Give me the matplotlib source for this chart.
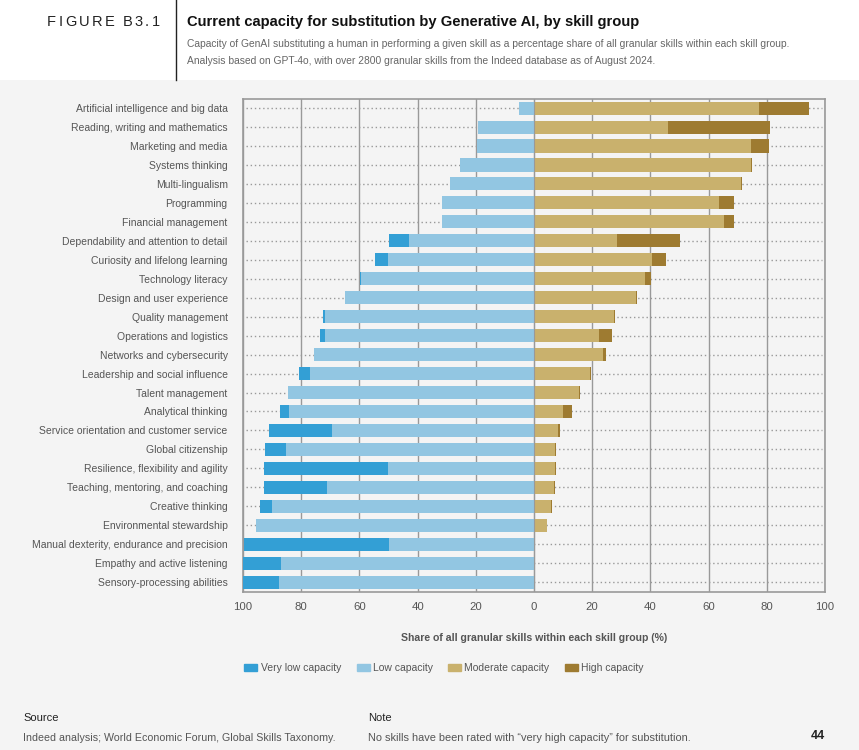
import matplotlib
matplotlib.use("Agg")
import matplotlib.pyplot as plt
import matplotlib.patches as mpatches
import numpy as np

plt.rcParams['font.family'] = ['Liberation Sans', 'DejaVu Sans']

categories = [
    "Artificial intelligence and big data",
    "Reading, writing and mathematics",
    "Marketing and media",
    "Systems thinking",
    "Multi-lingualism",
    "Programming",
    "Financial management",
    "Dependability and attention to detail",
    "Curiosity and lifelong learning",
    "Technology literacy",
    "Design and user experience",
    "Quality management",
    "Operations and logistics",
    "Networks and cybersecurity",
    "Leadership and social influence",
    "Talent management",
    "Analytical thinking",
    "Service orientation and customer service",
    "Global citizenship",
    "Resilience, flexibility and agility",
    "Teaching, mentoring, and coaching",
    "Creative thinking",
    "Environmental stewardship",
    "Manual dexterity, endurance and precision",
    "Empathy and active listening",
    "Sensory-processing abilities",
]
very_low = [0, 0, 0, 0, 0, 0, 0, 7.2, 4.5, 0.3, 0, 0.7, 1.7, 0, 3.8, 0, 3.0, 21.7,
            7.2, 42.7, 21.6, 4.2, 0, 50.0, 13.0, 12.3]
low = [5.3, 19.1, 19.5, 25.3, 28.7, 31.5, 31.5, 42.8, 50.1, 59.6, 64.8, 71.8, 71.8, 75.5,
       76.9, 84.5, 84.2, 69.3, 85.2, 50.1, 71.1, 90.0, 95.5, 49.7, 87.0, 87.6]
moderate = [77.3, 46.0, 74.6, 74.6, 71.1, 63.5, 65.2, 28.5, 40.4, 38.1, 34.9, 27.4, 22.5,
            23.6, 19.1, 15.3, 9.9, 8.4, 7.2, 7.2, 6.9, 5.8, 4.3, 0, 0, 0]
high = [17.3, 35.2, 6.2, 0.4, 0.3, 5.3, 3.6, 21.6, 5.1, 2.1, 0.4, 0.4, 4.2, 1.1, 0.4, 0.4,
        3.0, 0.7, 0.2, 0.2, 0.3, 0.3, 0.3, 0.5, 0, 0]
xticks = [-100, -80, -60, -40, -20, 0, 20, 40, 60, 80, 100]
xticklabels = ["100", "80", "60", "40", "20", "0", "20", "40", "60", "80", "100"]
legend_labels = ["Very low capacity", "Low capacity", "Moderate capacity", "High capacity"]

c_vlow = "#339fd5"
c_low = "#92c6e2"
c_mod = "#c9b16d"
c_high = "#9e7b31"
bg = "#f4f4f4"
grid_c = "#999999"
txt_c = "#555555"

W, H = 859, 750
fig = plt.figure(figsize=(W / 100, H / 100), dpi=100)
fig.patch.set_facecolor(bg)

# white header band
fig.add_artist(mpatches.Rectangle((0, 1 - 80 / H), 1, 80 / H, transform=fig.transFigure,
                                  facecolor="white", edgecolor="none", zorder=0))
fig.add_artist(plt.Line2D([176 / W, 176 / W], [1, 1 - 80 / H], transform=fig.transFigure,
                          color="#222222", lw=1.0))

ax = fig.add_axes([243 / W, 1 - 592 / H, (825 - 243) / W, (592 - 99) / H])
ax.set_facecolor(bg)

y = np.arange(len(categories))
vl = np.array(very_low)
lo = np.array(low)
mo = np.array(moderate)
hi = np.array(high)
bh = 0.69
ax.barh(y, -lo, height=bh, color=c_low, zorder=3, linewidth=0)
ax.barh(y, -vl, left=-lo, height=bh, color=c_vlow, zorder=3, linewidth=0)
ax.barh(y, mo, height=bh, color=c_mod, zorder=3, linewidth=0)
ax.barh(y, hi, left=mo, height=bh, color=c_high, zorder=3, linewidth=0)

ax.set_xlim(-100, 100)
ax.set_ylim(len(categories) - 0.5 + 0.02, -0.5 + 0.02)
ax.set_yticks(y)
ax.set_yticklabels(categories, fontsize=7.5, color=txt_c)
ax.set_xticks(xticks)
ax.set_xticklabels(xticklabels, fontsize=8.2, color=txt_c)
ax.tick_params(axis='both', length=0)
ax.tick_params(axis='y', pad=11)
ax.tick_params(axis='x', pad=7)

for xv in xticks:
    ax.axvline(xv, color=grid_c, lw=1.0, zorder=2)
for yi in y:
    ax.plot([-99, 99], [yi, yi], color=grid_c, lw=1.0, ls=(0, (1, 2)), zorder=1)
ax.axvline(0, color=grid_c, lw=0.8, zorder=4)
for s in ax.spines.values():
    s.set_color(grid_c)
    s.set_linewidth(1.2)

ax.set_xlabel("Share of all granular skills within each skill group (%)", fontsize=7.6,
              color=txt_c, fontweight="bold", labelpad=15)

handles = [mpatches.Patch(color=c) for c in [c_vlow, c_low, c_mod, c_high]]
fig.legend(handles, legend_labels, loc="center left", bbox_to_anchor=(235 / W, 1 - 668 / H),
           ncol=4, frameon=False, fontsize=7.5, handlelength=1.25, handleheight=0.75,
           handletextpad=0.3, columnspacing=1.5, labelcolor=txt_c)

# header texts: letter-spaced figure label
renderer = fig.canvas.get_renderer()
fig_label = "FIGURE B3.1"
fx = 47.0
tracking = 2.4
for ch in fig_label:
    if ch == " ":
        fx += 5.5
        continue
    t = fig.text(fx / W, 1 - 22 / H, ch, fontsize=10.5, color="#222222", va="center", ha="left")
    bb = t.get_window_extent(renderer=renderer)
    fx += bb.width + tracking

fig.text(187 / W, 1 - 22 / H, "Current capacity for substitution by Generative AI, by skill group",
         fontsize=10.6, fontweight="bold", color="#111111", va="center", ha="left")
fig.text(187 / W, 1 - 44 / H,
         "Capacity of GenAI substituting a human in performing a given skill as a percentage share of all granular skills within each skill group.",
         fontsize=7.4, color="#666666", va="center", ha="left")
fig.text(187 / W, 1 - 61 / H,
         "Analysis based on GPT-4o, with over 2800 granular skills from the Indeed database as of August 2024.",
         fontsize=7.4, color="#666666", va="center", ha="left")

# footer
fig.text(23 / W, 1 - 718 / H, "Source", fontsize=8.0, color="#222222", va="center", ha="left")
fig.text(23 / W, 1 - 738 / H, "Indeed analysis; World Economic Forum, Global Skills Taxonomy.",
         fontsize=7.7, color="#555555", va="center", ha="left")
fig.text(368 / W, 1 - 718 / H, "Note", fontsize=8.0, color="#222222", va="center", ha="left")
fig.text(368 / W, 1 - 738 / H, "No skills have been rated with \u201cvery high capacity\u201d for substitution.",
         fontsize=7.9, color="#555555", va="center", ha="left")
fig.text(818 / W, 1 - 736 / H, "44", fontsize=9, color="#222222", va="center", ha="center",
         fontweight="bold")

fig.savefig("out.png", dpi=100, facecolor=fig.get_facecolor())
